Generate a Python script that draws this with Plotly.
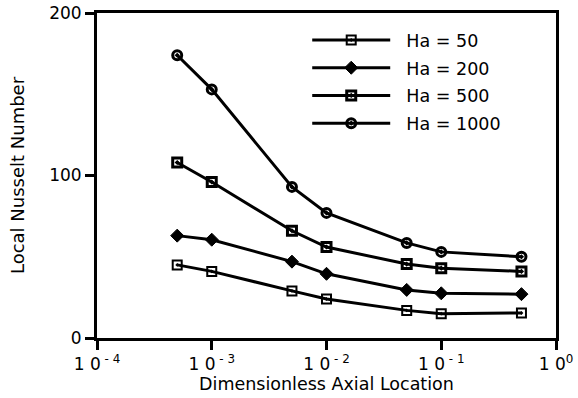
import plotly.graph_objects as go

x_loc = [5e-4, 1e-3, 5e-3, 1e-2, 5e-2, 1e-1, 5e-1]
nu_ha50 = [45, 41, 29, 24, 17, 15, 15.4]
nu_ha200 = [63, 60.5, 47, 39.5, 29.6, 27.5, 27]
nu_ha500 = [108, 96, 66, 56, 45.5, 43, 41]
nu_ha1000 = [174, 153, 93, 77, 58.5, 53, 50]

series = [
    ("Ha = 50", nu_ha50, dict(symbol="square-open-dot", size=9, color="black", line=dict(width=2))),
    ("Ha = 200", nu_ha200, dict(symbol="diamond", size=10, color="black", line=dict(color="black", width=1))),
    ("Ha = 500", nu_ha500, dict(symbol="square-open-dot", size=9, color="black", line=dict(width=3))),
    ("Ha = 1000", nu_ha1000, dict(symbol="circle-open-dot", size=9, color="black", line=dict(width=3))),
]

x_tickvals = [1e-4, 1e-3, 1e-2, 1e-1, 1]
x_ticktext = ["1 0<sup> - 4</sup>", "1 0<sup> - 3</sup>", "1 0<sup> - 2</sup>", "1 0<sup> - 1</sup>", "1 0<sup>0</sup>"]
y_tickvals = [0, 100, 200]

fig = go.Figure()
for i, (name, vals, mk) in enumerate(series):
    fig.add_trace(go.Scatter(
        x=x_loc, y=vals, mode="lines+markers", name="\u00a0\u00a0" + name,
        line=dict(color="black", width=3), marker=mk,
        legendgroup=f"g{i}",
    ))

font = "DejaVu Sans, Arial, sans-serif"
fig.update_layout(
    width=578, height=398,
    margin=dict(l=97, r=22, t=13, b=60),
    paper_bgcolor="white", plot_bgcolor="white",
    font=dict(family=font, color="black", size=16),
    legend=dict(x=0.458, y=0.972, xanchor="left", yanchor="top",
                itemwidth=78, tracegroupgap=2, font=dict(size=17.5),
                bgcolor="rgba(0,0,0,0)"),
    xaxis=dict(type="log", range=[-4, 0], tickvals=x_tickvals, ticktext=x_ticktext,
               showline=True, mirror=True, linecolor="black", linewidth=3,
               ticks="outside", ticklen=9, tickwidth=3, tickcolor="black",
               showgrid=False, zeroline=False, tickfont=dict(size=17), automargin=False,
               title=dict(text="Dimensionless Axial Location", font=dict(size=17.5), standoff=0)),
    xaxis2=dict(type="log", range=[-4, 0], tickvals=x_tickvals, overlaying="x", anchor="y",
                side="bottom", showticklabels=False, showline=False,
                ticks="inside", ticklen=7, tickwidth=3, tickcolor="black",
                showgrid=False, zeroline=False, automargin=False),
    yaxis=dict(range=[0, 200], tickvals=y_tickvals,
               showline=True, mirror=True, linecolor="black", linewidth=3,
               ticks="outside", ticklen=9, tickwidth=3, tickcolor="black",
               showgrid=False, zeroline=False, tickfont=dict(size=17), automargin=False,
               title=dict(text="Local Nusselt Number", font=dict(size=18), standoff=20)),
)

fig.write_html("out.html")
